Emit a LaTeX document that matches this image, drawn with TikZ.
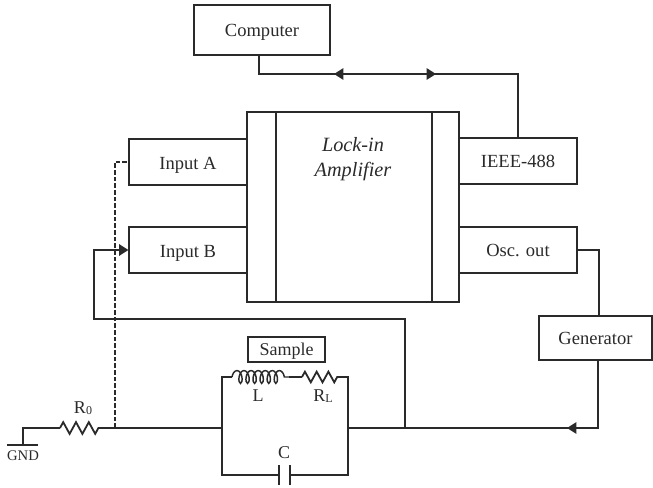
\documentclass[tikz,border=0pt]{standalone}
\usepackage{fontspec}
\setmainfont{Liberation Serif}
\usetikzlibrary{arrows.meta,decorations.pathmorphing,calc}
\definecolor{ink}{HTML}{2A2A2A}
\tikzset{
  wire/.style={draw=ink,line width=1.35pt},
  boxn/.style={draw=ink,line width=1.35pt,rectangle,inner sep=0pt,text=ink,font=\fontsize{13.9}{15}\selectfont,text height=9.6pt,text depth=0pt},
  lab/.style={inner sep=0pt,text=ink,font=\fontsize{13.5}{15}\selectfont},
  tip/.style={-{Triangle[length=7pt,width=8.5pt]}},
  resist/.style={wire,decorate,decoration={zigzag,segment length=9.6pt,amplitude=4.4pt}},
  coilw/.style={wire,line width=1.1pt,decorate,decoration={coil,aspect=0.5,segment length=5.3pt,amplitude=4.8pt}},
  dashw/.style={draw=ink,line width=1.2pt,dash pattern=on 3.4pt off 1.6pt}
}
\begin{document}
\begin{tikzpicture}[x=0.75pt,y=-0.75pt]
\useasboundingbox (0,0) rectangle (653,488);
% boxes
\node[boxn,minimum width=102pt,minimum height=37.5pt] (comp) at (262,30) {Computer};
\node[boxn,minimum width=159pt,minimum height=142pt] (amp) at (353,207) {};
\node[boxn,minimum width=88pt,minimum height=34.5pt,text height=11pt] (ina) at (188,162) {Input A};
\node[boxn,minimum width=88pt,minimum height=34.5pt,text height=11.5pt] (inb) at (188,250) {Input B};
\node[boxn,minimum width=88pt,minimum height=34.5pt] (ieee) at (518,161) {IEEE-488};
\node[boxn,minimum width=88pt,minimum height=34.5pt] (osc) at (518,250) {Osc. out};
\node[boxn,minimum width=85pt,minimum height=32.5pt] (gen) at (595.5,338) {Generator};
\node[boxn,minimum width=58pt,minimum height=19pt,font=\fontsize{13.5}{15}\selectfont] (sample) at (286.5,349.5) {Sample};
\node[lab,align=center,font=\fontsize{15.2}{19}\selectfont\itshape] (ampt) at (353,159) {Lock-in\\Amplifier};
% amplifier inner bars
\coordinate (b1t) at (276,112); \coordinate (b1b) at (276,302);
\coordinate (b2t) at (432,112); \coordinate (b2b) at (432,302);
\draw[wire] (b1t) -- (b1b);
\draw[wire] (b2t) -- (b2b);
% computer bus
\coordinate (busl) at (259,74); \coordinate (busr) at (518,74);
\coordinate (a1) at (334,74); \coordinate (a2) at (436,74);
\coordinate (a1b) at (346,74); \coordinate (a2b) at (424,74);
\draw[wire] (comp.south -| busl) -- (busl) -- (busr) -- (busr |- ieee.north);
\draw[wire,tip] (a1b) -- (a1);
\draw[wire,tip] (a2b) -- (a2);
% circuit coordinates
\coordinate (gndt) at (23,428);
\coordinate (gl) at (7,445); \coordinate (gr) at (38,445);
\coordinate (gb) at (23,445);
\coordinate (r0a) at (60,428); \coordinate (r0b) at (100,428);
\coordinate (tap) at (115,428);
\coordinate (pl) at (222,428); \coordinate (pr) at (348,428);
\coordinate (ptl) at (222,377); \coordinate (ptr) at (348,377);
\coordinate (pbl) at (222,475); \coordinate (pbr) at (348,475);
\coordinate (la) at (232,377); \coordinate (lb) at (289,377);
\coordinate (rla) at (302,377); \coordinate (rlb) at (338,377);
\coordinate (c1) at (279,475); \coordinate (c2) at (290,475);
\coordinate (node) at (405,428);
\coordinate (gc) at (598,428);
% GND and R0
\draw[wire] (gl) -- (gr);
\draw[wire] (gb) -- (gndt) -- (r0a);
\draw[resist] (r0a) -- (r0b);
\draw[wire] (r0b) -- (pl);
% parallel network
\draw[wire] (la) -- (ptl) -- (pbl) -- (c1);
\draw[wire] (rlb) -- (ptr) -- (pbr) -- (c2);
\draw[coilw] (la) -- (lb);
\draw[wire] (lb) -- (rla);
\draw[resist,decoration={zigzag,segment length=8.8pt,amplitude=4pt}] (rla) -- (rlb);
\draw[wire] ($(c1)+(0,-10)$) -- ($(c1)+(0,10)$);
\draw[wire] ($(c2)+(0,-10)$) -- ($(c2)+(0,10)$);
% generator feed
\draw[wire] (osc.east) -- (599,250) -- (599,316);
\draw[wire] (gen.south -| gc) -- (gc) -- (pr);
\coordinate (a3) at (567,428);
\draw[wire,tip] ($(a3)+(12,0)$) -- (a3);
% Input B loop
\coordinate (lp1) at (94,250); \coordinate (lp2) at (94,319); \coordinate (lp3) at (405,319);
\draw[wire,tip] (node) -- (lp3) -- (lp2) -- (lp1) -- (inb.west);
% Input A dashed
\coordinate (dt) at (115,162);
\draw[dashw] (tap) -- (dt) -- (ina.west);
% labels
\node[lab] (r0) at (83,408) {R\raisebox{-0.2ex}{\fontsize{9}{10}\selectfont 0}};
\node[lab,font=\fontsize{11}{12}\selectfont] (gnd) at (23,456) {GND};
\node[lab] (ll) at (258,396) {L};
\node[lab] (rl) at (323,396) {R\raisebox{-0.2ex}{\fontsize{9}{10}\selectfont L}};
\node[lab] (cl) at (284,453) {C};
\end{tikzpicture}
\end{document}
